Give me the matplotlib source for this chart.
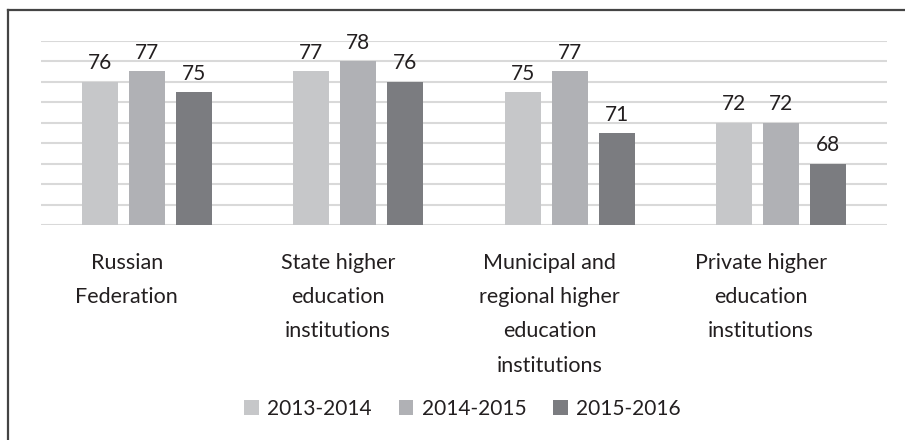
import numpy as np
import matplotlib.pyplot as plt
from matplotlib.lines import Line2D

categories = ["Russian\nFederation",
              "State higher\neducation\ninstitutions",
              "Municipal and\nregional higher\neducation\ninstitutions",
              "Private higher\neducation\ninstitutions"]
years = ["2013-2014", "2014-2015", "2015-2016"]
v_2013 = [76, 77, 75, 72]
v_2014 = [77, 78, 77, 72]
v_2015 = [75, 76, 71, 68]
colors = ["#c6c7c9", "#b0b1b5", "#7b7c80"]

plt.rcParams['font.family'] = ['Lato', 'DejaVu Sans']
text_color = "#231f20"

fig = plt.figure(figsize=(9.05, 4.40), dpi=100)
ax = fig.add_axes([0.0453, 0.4886, 0.9348, 0.4189])

x = np.arange(len(categories))
width = 0.17
step = 0.222
bars = []
for i, (vals, c, lab) in enumerate(zip([v_2013, v_2014, v_2015], colors, years)):
    b = ax.bar(x + (i - 1) * step, vals, width, color=c, label=lab, zorder=2)
    bars.append(b)
    for rect, v in zip(b, vals):
        ax.annotate(str(v), (rect.get_x() + rect.get_width() / 2, v),
                    xytext=(0, 6), textcoords="offset points",
                    ha="center", va="bottom", fontsize=15,
                    color=text_color, annotation_clip=False)

ax.set_ylim(62, 80)
ax.set_xlim(-0.5, len(categories) - 0.5)
ax.set_yticks(np.arange(62, 81, 2))
ax.yaxis.grid(True, color="#d9d9d9", linewidth=1.5, zorder=0)
ax.tick_params(left=False, bottom=False, labelleft=False, labelbottom=False)
for s in ax.spines.values():
    s.set_visible(False)

for xi, cat in zip(x, categories):
    ax.text(xi - 0.095, -0.15, cat, transform=ax.get_xaxis_transform(),
            ha="center", va="top", fontsize=15.5, color=text_color,
            linespacing=1.9, multialignment="center")

leg = fig.legend(handles=[b[0] for b in bars], labels=years,
                 loc="center", bbox_to_anchor=(0.511, 0.071), ncol=3,
                 frameon=False, fontsize=15, handlelength=0.7,
                 handleheight=0.7, handletextpad=0.4, columnspacing=1.3)
for t in leg.get_texts():
    t.set_color(text_color)

# frame lines on left and top
fig.add_artist(Line2D([7.5 / 905, 7.5 / 905], [0, 1 - 10 / 440],
                      transform=fig.transFigure, color="#444444", linewidth=1.6))
fig.add_artist(Line2D([7.5 / 905, 1], [1 - 10 / 440, 1 - 10 / 440],
                      transform=fig.transFigure, color="#444444", linewidth=1.6))

fig.savefig("out.png", dpi=100)
